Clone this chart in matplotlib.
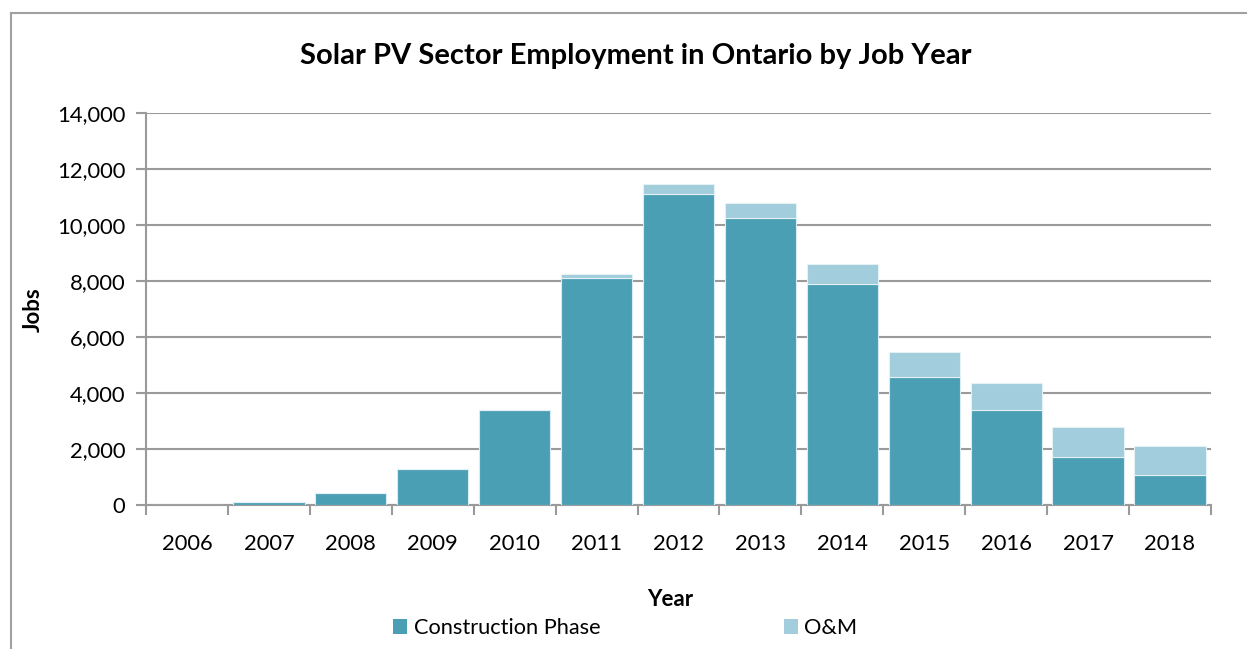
import numpy as np
import matplotlib.pyplot as plt
from matplotlib.patches import Patch
from matplotlib.lines import Line2D
from matplotlib.ticker import FuncFormatter, FixedLocator

# datos
years = ["2006", "2007", "2008", "2009", "2010", "2011", "2012",
         "2013", "2014", "2015", "2016", "2017", "2018"]
construction = [0, 110, 420, 1290, 3400, 8120, 11100, 10260, 7900, 4580, 3390, 1720, 1060]
om = [0, 0, 0, 0, 0, 130, 350, 520, 700, 870, 950, 1050, 1050]

c_dark = "#4a9fb5"
c_light = "#a2cddc"
c_grid = "#9a9a9a"

plt.rcParams["font.family"] = ["Lato", "DejaVu Sans"]

fig = plt.figure(figsize=(12.47, 6.49), dpi=100)
ax = fig.add_axes([146 / 1247, 1 - 505 / 649, (1211 - 146) / 1247, (505 - 113) / 649])

x = np.arange(len(years))
ax.bar(x, construction, width=0.87, color=c_dark, edgecolor="#d8ecf2", linewidth=0.8, zorder=3)
ax.bar(x, om, width=0.87, bottom=construction, color=c_light, edgecolor="#e4f1f5",
       linewidth=0.8, zorder=3)

ax.set_xlim(-0.5, len(years) - 0.5)
ax.set_ylim(0, 14000)
ax.set_yticks(range(0, 14001, 2000))
ax.yaxis.set_major_formatter(FuncFormatter(lambda v, p: f"{int(v):,}"))
ax.grid(axis="y", color=c_grid, linewidth=1.5, zorder=0)

ax.set_xticks(x)
ax.set_xticklabels(years)
ax.xaxis.set_minor_locator(FixedLocator(np.arange(-0.5, len(years), 1)))
ax.tick_params(axis="x", which="major", length=0, pad=21, labelsize=15.8)
ax.tick_params(axis="x", which="minor", length=7, width=1.5, color=c_grid)
ax.tick_params(axis="y", length=7, width=1.5, color=c_grid, labelsize=15.8, pad=8)

for s in ["top", "right"]:
    ax.spines[s].set_visible(False)
for s in ["left", "bottom"]:
    ax.spines[s].set_color(c_grid)
    ax.spines[s].set_linewidth(1.5)

fig.text(636 / 1247, 1 - 56 / 649, "Solar PV Sector Employment in Ontario by Job Year",
         ha="center", va="center", fontsize=21, fontweight="bold")
fig.text(33 / 1247, 1 - 310 / 649, "Jobs", rotation=90, ha="center", va="center",
         fontsize=16, fontweight="bold")
fig.text(670 / 1247, 1 - 600 / 649, "Year", ha="center", va="center",
         fontsize=16, fontweight="bold")

# marco exterior del grafico
fig.add_artist(Line2D([11 / 1247, 11 / 1247], [0, 1 - 13 / 649], transform=fig.transFigure,
                      color="#a0a0a0", linewidth=1.5))
fig.add_artist(Line2D([11 / 1247, 1], [1 - 13 / 649, 1 - 13 / 649], transform=fig.transFigure,
                      color="#a0a0a0", linewidth=1.5))

handles = [Patch(facecolor=c_dark, label="Construction Phase"),
           Patch(facecolor=c_light, label="O&M")]
fig.legend(handles=handles, loc="center left", bbox_to_anchor=(393 / 1247, 1 - 628 / 649),
           ncol=2, frameon=False, fontsize=15.7, handlelength=0.65, handleheight=0.65,
           handletextpad=0.3, columnspacing=8.4, borderaxespad=0, borderpad=0)

fig.savefig("out.png", dpi=100)
